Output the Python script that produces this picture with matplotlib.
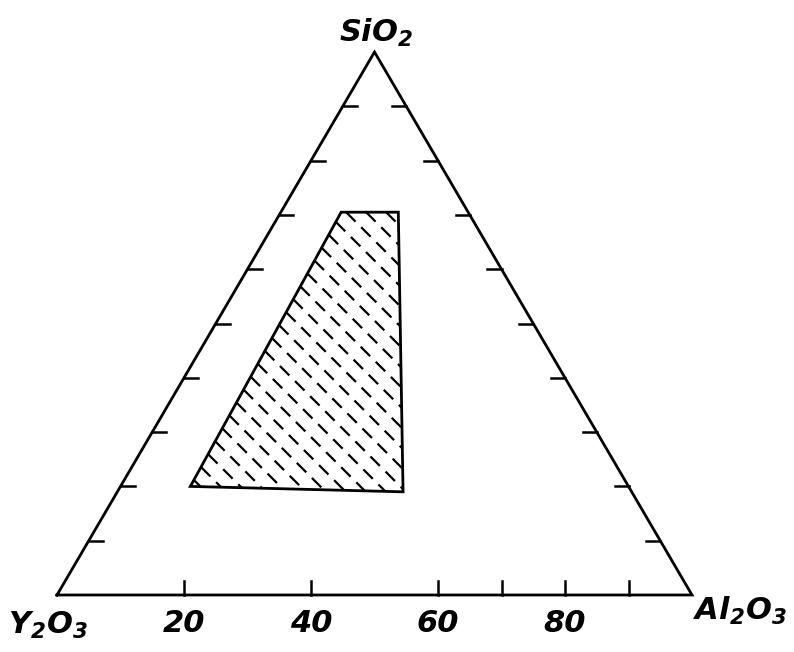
import numpy as np
import matplotlib
matplotlib.use("Agg")
import matplotlib.pyplot as plt
from matplotlib.patches import Polygon

# corner names (bottom-left, bottom-right, top)
corner_labels = ["Y$_2$O$_3$", "Al$_2$O$_3$", "SiO$_2$"]

# ticks along the base (Al2O3 %) and along both sides (SiO2 %)
base_ticks = [20, 40, 60, 70, 80, 90]
base_labels = [20, 40, 60, 80]
side_ticks = [10, 20, 30, 40, 50, 60, 70, 80, 90]

# hatched composition region, mol %
region_sio2 = [70.5, 70.5, 19.0, 20.0]
region_al2o3 = [9.5, 18.5, 45.0, 11.0]
region_y2o3 = [20.0, 11.0, 36.0, 69.0]

H = np.sqrt(3) / 2


def tern(al, si):
    # cartesian position from Al2O3 and SiO2 fractions
    al = np.asarray(al, dtype=float) / 100.0
    si = np.asarray(si, dtype=float) / 100.0
    return al + si / 2, si * H


plt.rcParams["mathtext.fontset"] = "custom"
plt.rcParams["mathtext.rm"] = "DejaVu Sans:italic:bold"
plt.rcParams["mathtext.it"] = "DejaVu Sans:italic:bold"

fig = plt.figure(figsize=(7.94, 6.52), dpi=100)
ax = fig.add_axes([0, 0, 1, 1])
# pixel scales so the triangle lands where it is in the drawing
sx, sy = 635.0, 627.0
ax.set_xlim(-57 / sx, (794 - 57) / sx)
ax.set_ylim(-57 / sy, (652 - 57) / sy)
ax.axis("off")

# triangle outline
ax.plot([0, 1, 0.5, 0], [0, 0, H, 0], color="black", lw=2.0,
        solid_joinstyle="miter", zorder=3)

tl = 14 / sx  # tick length
for v in side_ticks:
    x, y = tern(0, v)
    ax.plot([x, x + tl], [y, y], color="black", lw=1.8)
    x, y = tern(100 - v, v)
    ax.plot([x - tl, x], [y, y], color="black", lw=1.8)
for v in base_ticks:
    x, y = tern(v, 0)
    ax.plot([x, x], [0, 14 / sy], color="black", lw=1.8)

fs = dict(fontsize=22, style="italic", fontweight="bold", color="black")
for v in base_labels:
    x, _ = tern(v, 0)
    ax.text(x, -0.045, str(v), ha="center", va="center", **fs)

ax.text(-0.014, -0.048, corner_labels[0], ha="center", va="center", **fs)
ax.text(1.076, -0.026, corner_labels[1], ha="center", va="center", **fs)
ax.text(0.502, 0.896, corner_labels[2], ha="center", va="center", **fs)

# region polygon
rx, ry = tern(region_al2o3, region_sio2)
pts = np.column_stack([rx, ry])
poly = Polygon(pts, closed=True, fill=False, edgecolor="black", lw=2.0,
               joinstyle="miter", zorder=4)
ax.add_patch(poly)

# dashed 45 degree hatching, worked out in pixel space
P = pts * np.array([sx, sy])
n = len(P)
cmin = (P[:, 0] + P[:, 1]).min()
cmax = (P[:, 0] + P[:, 1]).max()
for c in np.arange(cmin + 10, cmax, 20.0):
    # line x + y = c, parametrised as (t, c - t)
    ts = []
    for i in range(n):
        p0, p1 = P[i], P[(i + 1) % n]
        f0 = p0[0] + p0[1] - c
        f1 = p1[0] + p1[1] - c
        if f0 == f1 or f0 * f1 > 0:
            continue
        k = f0 / (f0 - f1)
        ts.append(p0[0] + k * (p1[0] - p0[0]))
    if len(ts) < 2:
        continue
    t0, t1 = min(ts), max(ts)
    xs = np.array([t0, t1])
    ys = c - xs
    ax.plot(xs / sx, ys / sy, color="black", lw=1.6,
            linestyle=(0, (6.0, 3.6)), solid_capstyle="butt", zorder=2)

fig.savefig("out.png", dpi=100)
